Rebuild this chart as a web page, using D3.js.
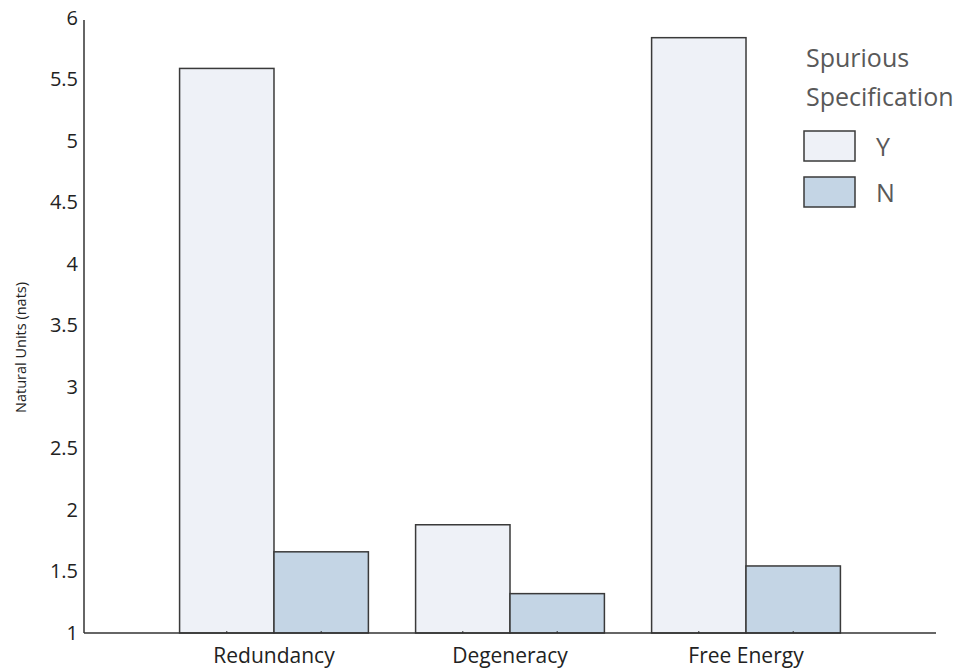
<!DOCTYPE html>
<html>
<head>
<meta charset="utf-8">
<script src="https://cdn.jsdelivr.net/npm/d3@7"></script>
<style>
  body { margin: 0; background: #fff; }
  text { font-family: "Open Sans", sans-serif; }
</style>
</head>
<body>
<script>
const categories = ["Redundancy", "Degeneracy", "Free Energy"];
const seriesKeys = ["Y", "N"];
const valuesY = [5.59, 1.88, 5.84];
const valuesN = [1.66, 1.32, 1.545];
const yTicks = [1, 1.5, 2, 2.5, 3, 3.5, 4, 4.5, 5, 5.5, 6];
const legendTitle = ["Spurious", "Specification"];

const width = 975;
const height = 672;

const rows = categories.map((c, i) => ({ cat: c, Y: valuesY[i], N: valuesN[i] }));

const svg = d3.select("body").append("svg")
    .attr("width", width)
    .attr("height", height);

const x = d3.scaleBand()
    .domain(categories)
    .range([84, 936])
    .paddingInner(0.2)
    .paddingOuter(0.405);

const xSub = d3.scaleBand()
    .domain(seriesKeys)
    .range([0, x.bandwidth()]);

const y = d3.scaleLinear()
    .domain([1, 6])
    .range([633, 18]);

const color = d3.scaleOrdinal()
    .domain(seriesKeys)
    .range(["#eef1f7", "#c4d5e5"]);

// bars
svg.append("g")
    .selectAll("g")
    .data(rows)
    .join("g")
    .attr("transform", d => `translate(${x(d.cat)},0)`)
    .selectAll("rect")
    .data(d => seriesKeys.map(k => ({ key: k, value: d[k] })))
    .join("rect")
    .attr("x", d => xSub(d.key))
    .attr("width", xSub.bandwidth())
    .attr("y", d => y(d.value))
    .attr("height", d => y(1) - y(d.value))
    .attr("fill", d => color(d.key))
    .attr("stroke", "#3a3a3a")
    .attr("stroke-width", 1.5);

// y axis
const yAxis = svg.append("g")
    .attr("transform", "translate(84,0)")
    .call(d3.axisLeft(y).tickValues(yTicks).tickSize(0).tickPadding(6).tickFormat(d3.format("")));
yAxis.select(".domain").attr("stroke", "#333").attr("stroke-width", 1.5).attr("d", `M0,${20}V${y(1)}`);
yAxis.selectAll("text")
    .attr("font-size", 20)
    .attr("fill", "#222")
    .style("font-family", "'Open Sans', sans-serif");

// x axis
const xAxis = svg.append("g")
    .attr("transform", `translate(0,${y(1)})`)
    .call(d3.axisBottom(x).tickSize(0).tickPadding(15));
xAxis.select(".domain").attr("stroke", "#333").attr("stroke-width", 1.5).attr("d", `M84,0H936`);
xAxis.selectAll("text")
    .attr("font-size", 21)
    .attr("fill", "#222")
    .style("font-family", "'Open Sans', sans-serif");

// small ticks at bar centers
svg.append("g")
    .selectAll("line")
    .data(rows.flatMap(d => seriesKeys.map(k => x(d.cat) + xSub(k) + xSub.bandwidth() / 2)))
    .join("line")
    .attr("x1", d => d).attr("x2", d => d)
    .attr("y1", y(1) - 2).attr("y2", y(1))
    .attr("stroke", "#333");

// y label
svg.append("text")
    .attr("transform", `translate(26,${(y(1) + y(6)) / 2 + 22}) rotate(-90)`)
    .attr("text-anchor", "middle")
    .attr("font-size", 14.5)
    .attr("fill", "#222")
    .text("Natural Units (nats)");

// legend
const legend = svg.append("g");
legend.selectAll("text.title")
    .data(legendTitle)
    .join("text")
    .attr("class", "title")
    .attr("x", 806)
    .attr("y", (d, i) => 67 + i * 39)
    .attr("font-size", 25)
    .attr("fill", "#595959")
    .text(d => d);

const items = legend.selectAll("g.item")
    .data(seriesKeys)
    .join("g")
    .attr("class", "item")
    .attr("transform", (d, i) => `translate(804,${131 + i * 46})`);
items.append("rect")
    .attr("width", 51)
    .attr("height", 30)
    .attr("fill", d => color(d))
    .attr("stroke", "#3a3a3a")
    .attr("stroke-width", 1.5);
items.append("text")
    .attr("x", 72)
    .attr("y", 25)
    .attr("font-size", 25)
    .attr("fill", "#595959")
    .text(d => d);
</script>
</body>
</html>
